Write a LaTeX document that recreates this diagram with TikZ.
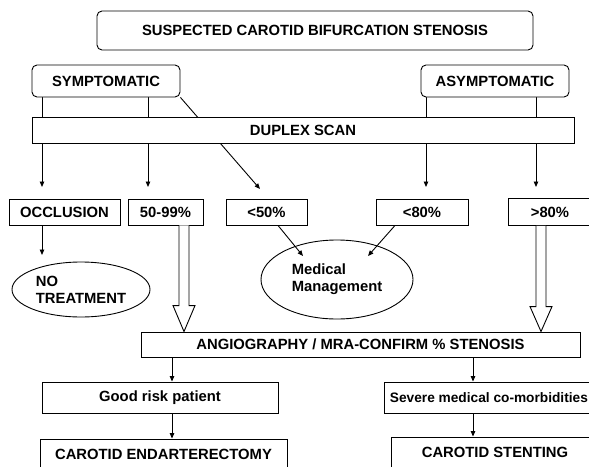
\documentclass[tikz,border=0pt]{standalone}
\usepackage{fontspec}
\setmainfont{Liberation Sans}
\usetikzlibrary{shapes.geometric,arrows.meta,calc,backgrounds}
\begin{document}
\begin{tikzpicture}[x=1pt,y=-1pt,
  every node/.style={font=\fontsize{14.8}{17}\selectfont\bfseries, inner sep=0pt, text=black},
  box/.style={draw, fill=white, line width=0.9pt, rectangle},
  rbox/.style={box, rounded corners=5pt},
  oval/.style={draw, fill=white, line width=0.9pt, ellipse, align=left},
  arr/.style={line width=0.9pt, -{Triangle[length=5.5pt,width=4.5pt]}},
  hollow/.style={draw, fill=white, line width=0.9pt, line join=miter}
]
\useasboundingbox (0,0) rectangle (589,466);
\clip (0,0) rectangle (589,466);

% nodes
\node[rbox, minimum width=436, minimum height=39] (top) at (315,30.5) {SUSPECTED CAROTID BIFURCATION STENOSIS};
\node[rbox, minimum width=148, minimum height=32] (sym) at (106,81) {SYMPTOMATIC};
\node[rbox, minimum width=148, minimum height=32] (asym) at (495,81) {ASYMPTOMATIC};
\node[box, minimum width=542, minimum height=26] (duplex) at (303,130) {DUPLEX SCAN};
\node[box, minimum width=111, minimum height=26] (occl) at (64.5,212) {OCCLUSION};
\node[box, minimum width=75, minimum height=26] (p5099) at (165.5,212) {50-99\%};
\node[box, minimum width=81, minimum height=26] (lt50) at (266.5,212) {<50\%};
\node[box, minimum width=92, minimum height=26] (lt80) at (422,212) {<80\%};
\node[box, minimum width=84, minimum height=27] (gt80) at (550,212) {>80\%};
\node[oval, minimum width=138, minimum height=55] (nt) at (81,289.5) {NO\\TREATMENT};
\node[oval, minimum width=152, minimum height=79] (med) at (337,279.5) {Medical\\Management};
\node[box, minimum width=439, minimum height=25] (angio) at (360.5,344.5) {ANGIOGRAPHY / MRA-CONFIRM \% STENOSIS};
\node[box, minimum width=236, minimum height=31] (good) at (160,397.5) {Good risk patient};
\node[box, anchor=west, minimum width=200, minimum height=31, inner xsep=5.5pt,
      font=\fontsize{13.7}{17}\selectfont\bfseries] (severe) at (384,397.5) {Severe medical co-morbidities};
\node[box, minimum width=247, minimum height=31] (cea) at (163.5,454.5) {CAROTID ENDARTERECTOMY};
\node[box, minimum width=208, minimum height=31] (stent) at (495,452.5) {CAROTID STENTING};

% free ends
\coordinate (e1) at (42,187);
\coordinate (e2) at (148,187);
\coordinate (e3) at (260,189);
\coordinate (e4) at (426,187);
\coordinate (e5) at (536,187);
\coordinate (e6) at (42,255);
\coordinate (m1) at (303,256);
\coordinate (m2) at (368,256);
\coordinate (c1) at (172,0);
\coordinate (c2) at (473,0);
\coordinate (h1) at (184,0);
\coordinate (h2) at (541,0);

\begin{scope}[on background layer]
  \draw[arr] (sym.south -| e1) -- (e1);
  \draw[arr] (sym.south -| e2) -- (e2);
  \draw[arr] (sym.south east) -- (e3);
  \draw[arr] (asym.south -| e4) -- (e4);
  \draw[arr] (asym.south -| e5) -- (e5);
\end{scope}

\draw[arr] (occl.south -| e6) -- (e6);
\draw[arr] ($(lt50.south)+(11.5,0)$) -- (m1);
\draw[arr] ($(lt80.south)+(-27,0)$) -- (m2);

\draw[arr] (angio.south -| c1) -- (good.north -| c1);
\draw[arr] (good.south -| c1) -- (cea.north -| c1);
\draw[arr] (angio.south -| c2) -- (severe.north -| c2);
\draw[arr] (severe.south -| c2) -- (stent.north -| c2);

% hollow arrows
\path (p5099.south -| h1) coordinate (ha) (angio.north -| h1) coordinate (hb);
\draw[hollow] ($(ha)+(-5,0)$) -- ($(hb)+(-5,-26)$) -- ($(hb)+(-11,-26)$) -- (hb)
  -- ($(hb)+(11,-26)$) -- ($(hb)+(5,-26)$) -- ($(ha)+(5,0)$);
\path (gt80.south -| h2) coordinate (hc) (angio.north -| h2) coordinate (hd);
\draw[hollow] ($(hc)+(-5,0)$) -- ($(hd)+(-5,-25)$) -- ($(hd)+(-11,-25)$) -- (hd)
  -- ($(hd)+(11,-25)$) -- ($(hd)+(5,-25)$) -- ($(hc)+(5,0)$);
\end{tikzpicture}
\end{document}
